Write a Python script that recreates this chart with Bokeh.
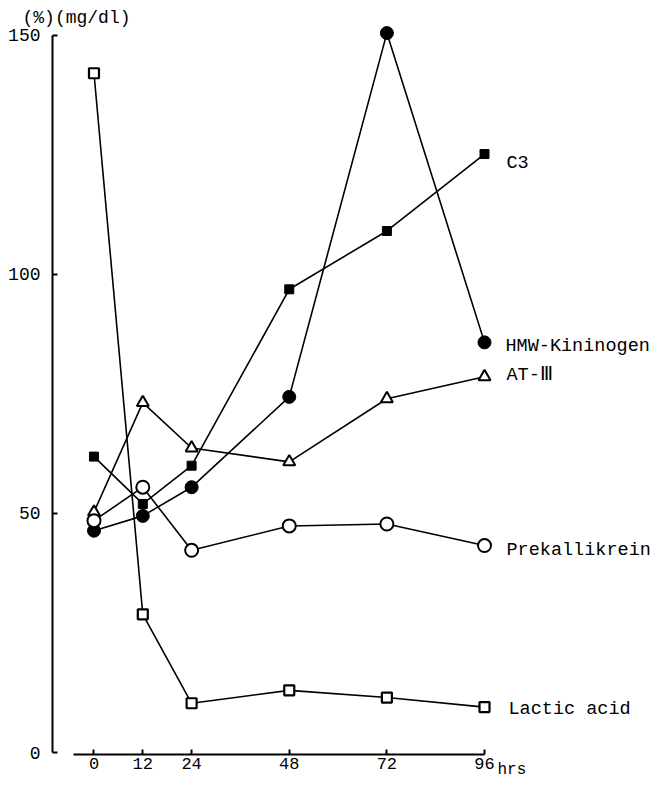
from bokeh.plotting import figure
from bokeh.models import ColumnDataSource, FixedTicker, Label, Range1d
from bokeh.core.properties import value
from bokeh.embed import file_html
from bokeh.resources import INLINE

# ---- data ----
hours = [0, 12, 24, 48, 72, 96]
c3 = [61.9, 52.0, 60.0, 96.9, 109.1, 125.2]
hmw_kininogen = [46.4, 49.5, 55.5, 74.4, 150.5, 85.8]
at_iii = [50.3, 73.2, 63.7, 60.8, 74.0, 78.6]
prekallikrein = [48.5, 55.5, 42.3, 47.4, 47.8, 43.3]
lactic_acid = [142.1, 28.9, 10.3, 13.0, 11.5, 9.5]
series_names = ["C3", "HMW-Kininogen", "AT-\u2162", "Prekallikrein", "Lactic acid"]
x_ticks = [0, 12, 24, 48, 72, 96]
y_ticks = [0, 50, 100, 150]
y_unit_label = "(%)(mg/dl)"
x_unit_label = "hrs"

FONT = "Liberation Mono"
W, H = 651, 782

# frame covers the whole canvas; axes are pinned with fixed_location
p = figure(width=W, height=H,
           x_range=Range1d(-22.98, 137.05), y_range=Range1d(-6.276, 157.32),
           output_backend="svg", toolbar_location=None,
           min_border=0, min_border_left=0, min_border_right=0,
           min_border_top=0, min_border_bottom=0)
p.grid.visible = False
p.outline_line_color = None
p.background_fill_color = "white"
p.border_fill_color = "white"

for ax in (p.xaxis[0], p.yaxis[0]):
    ax.axis_line_width = 2
    ax.axis_line_color = "black"
    ax.major_tick_line_width = 2
    ax.major_tick_line_color = "black"
    ax.major_tick_in = 5
    ax.major_tick_out = 0
    ax.minor_tick_line_color = None
    ax.major_label_text_font = FONT
    ax.major_label_text_color = "black"

p.xaxis.ticker = FixedTicker(ticks=x_ticks)
p.yaxis.ticker = FixedTicker(ticks=y_ticks)
p.xaxis.bounds = (-5, 96)
p.yaxis.bounds = (0, 150)
p.xaxis.fixed_location = -0.42
p.yaxis.fixed_location = -10.2
p.xaxis.major_label_text_font_size = "17px"
p.yaxis.major_label_text_font_size = "18px"
p.xaxis.major_label_standoff = 3
p.yaxis.major_label_standoff = 12

LW = 1.6
for ys in (lactic_acid, c3, hmw_kininogen, at_iii, prekallikrein):
    p.line(hours, ys, line_color="black", line_width=LW)

p.scatter(hours, lactic_acid, marker="square", size=10, fill_color="white",
          line_color="black", line_width=2.2)
p.scatter(hours, c3, marker="square", size=9, fill_color="black",
          line_color="black", line_width=1)
p.scatter(hours, hmw_kininogen, marker="circle", size=13, fill_color="black",
          line_color="black", line_width=1)
p.scatter(hours, at_iii, marker="triangle", size=12, fill_color="white",
          line_color="black", line_width=2)
p.scatter(hours, prekallikrein, marker="circle", size=13, fill_color="white",
          line_color="black", line_width=2)

# series labels next to the last point of each series
last_vals = [c3[-1], hmw_kininogen[-1], at_iii[-1], prekallikrein[-1], lactic_acid[-1]]
lab_src = ColumnDataSource(dict(
    x=[hours[-1]] * len(series_names), y=last_vals, text=series_names,
    xo=[22, 21, 22, 22, 24], yo=[9, 4, -1, 5, 2]))
p.text(x="x", y="y", text="text", source=lab_src, x_offset="xo", y_offset="yo",
       text_font=value(FONT), text_font_size="18.5px", text_color="black",
       text_align="left", text_baseline="middle")

p.add_layout(Label(x=x_ticks[0], y=y_ticks[-1], x_offset=-71.5, y_offset=17,
                   text=y_unit_label, text_font=FONT, text_font_size="18px",
                   text_color="black", text_baseline="middle", text_align="left"))
p.add_layout(Label(x=x_ticks[-1], y=y_ticks[0], x_offset=13, y_offset=-17,
                   text=x_unit_label, text_font=FONT, text_font_size="16px",
                   text_color="black", text_baseline="middle", text_align="left"))

open("out.html", "w").write(file_html(p, INLINE))
